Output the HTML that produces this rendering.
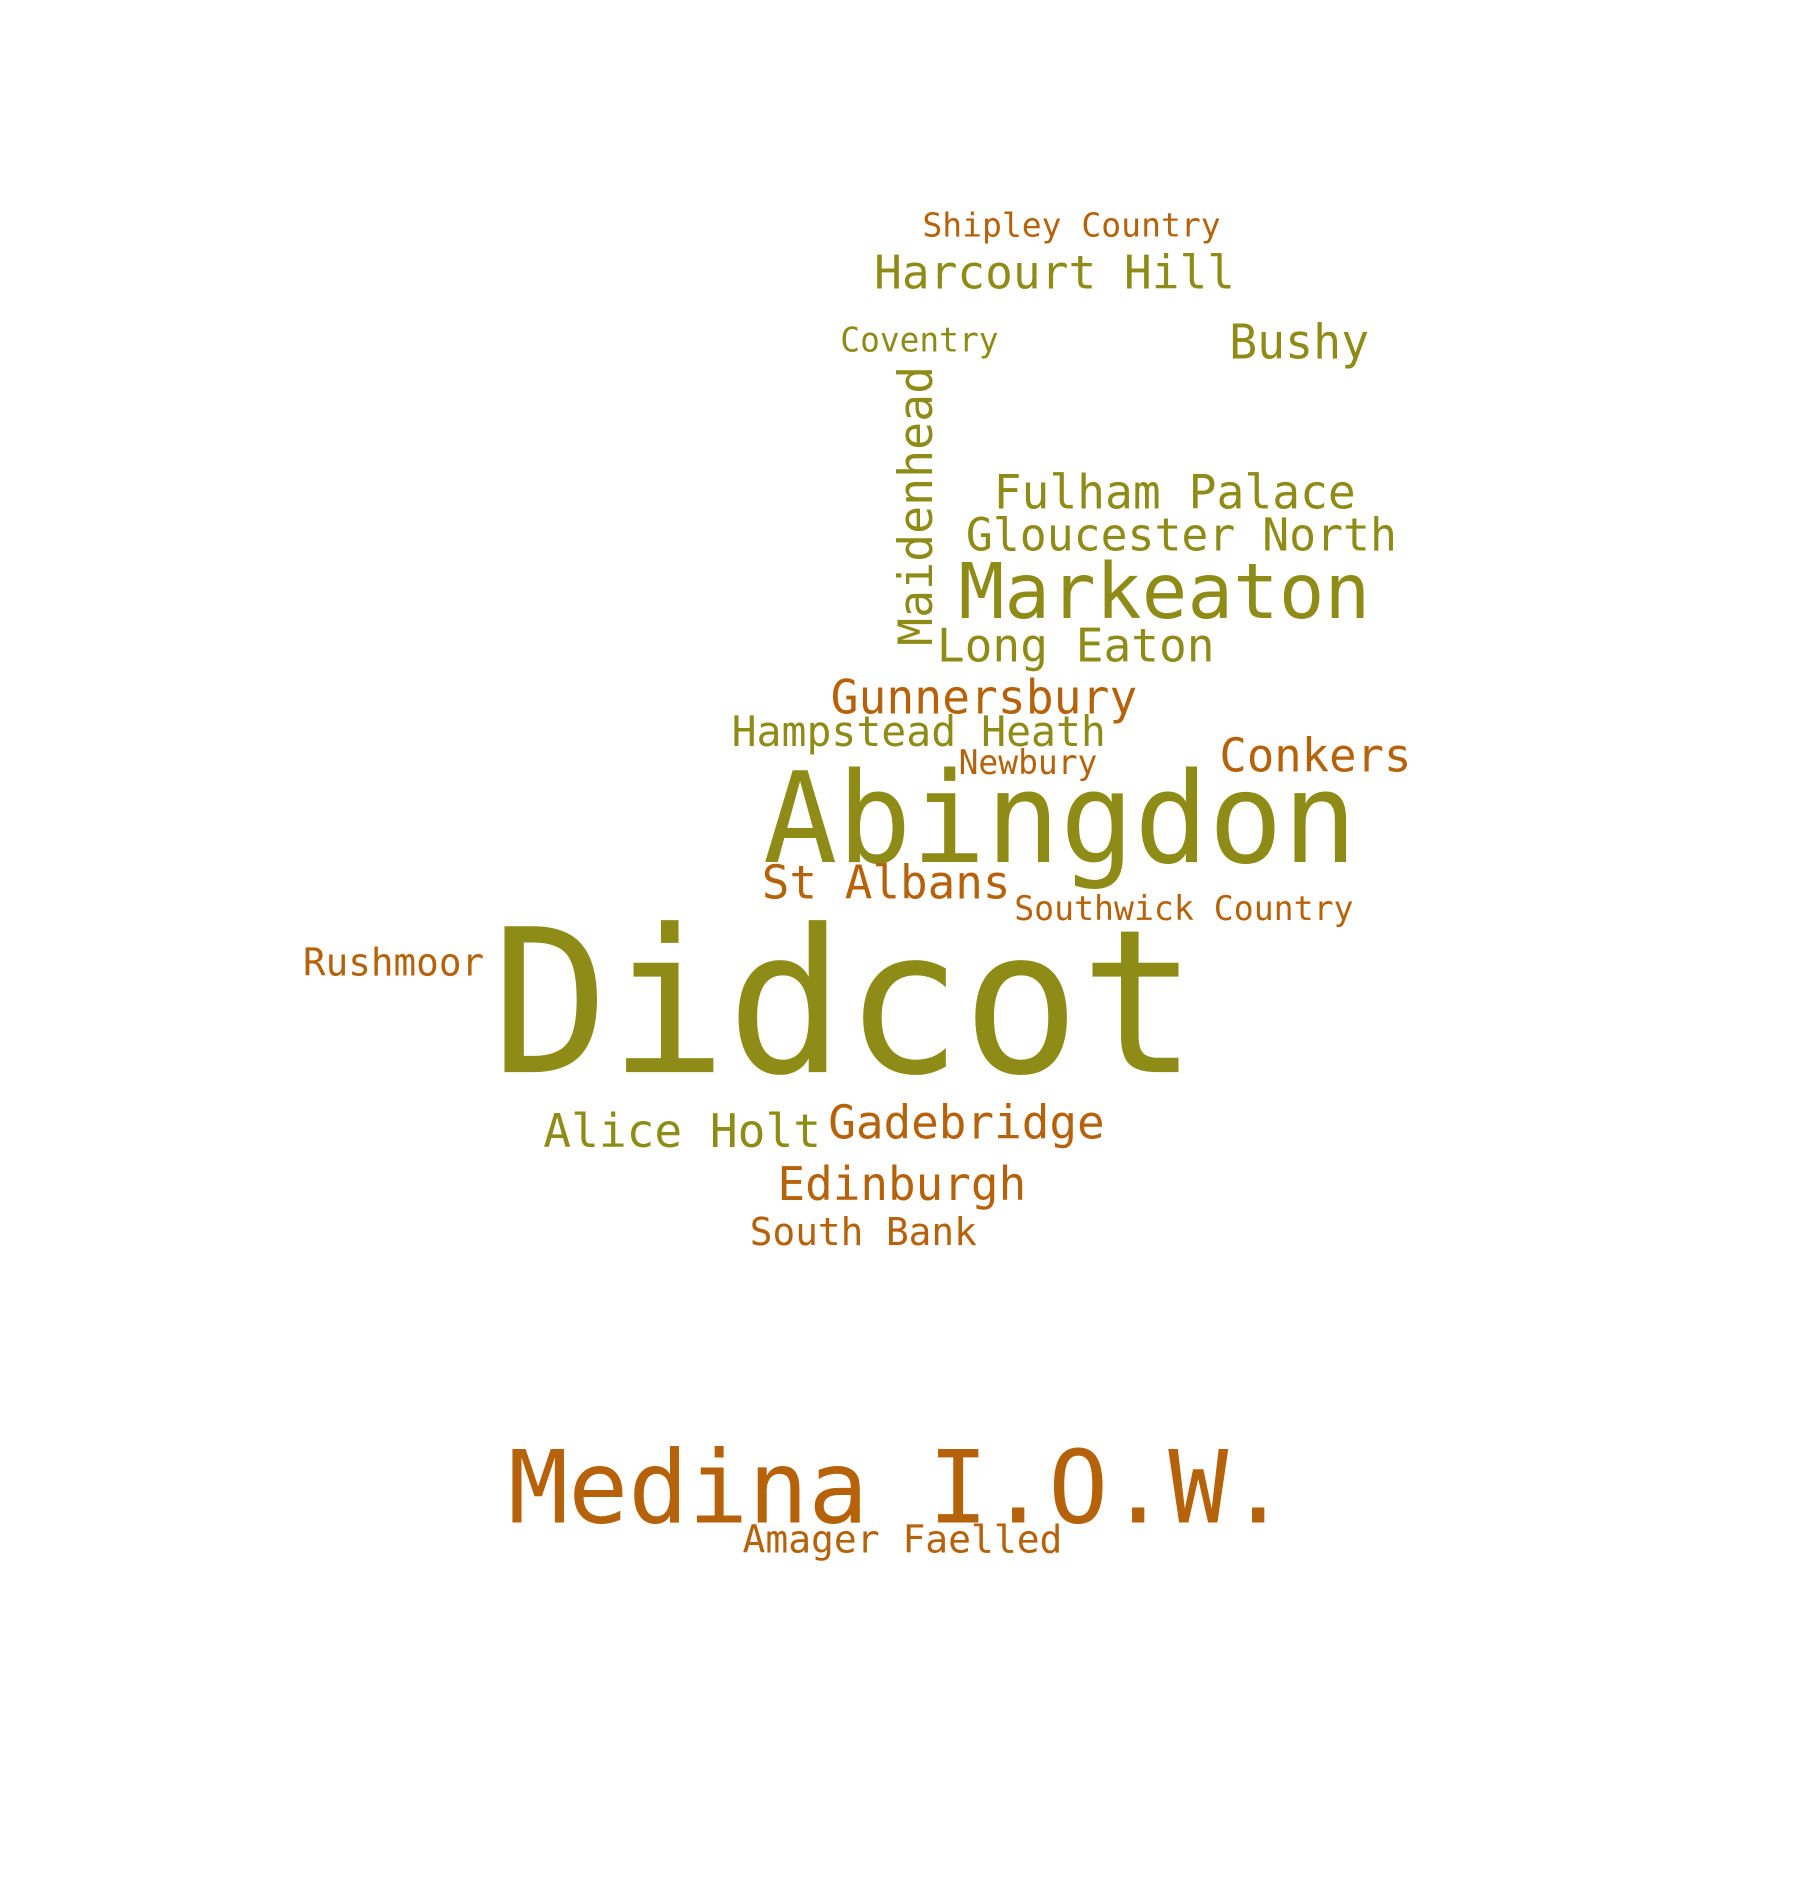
<!DOCTYPE html>
<html><head><meta charset="utf-8">
<style>
html,body{margin:0;padding:0;background:#fff;}
svg{display:block;}
text{font-family:"DejaVu Sans Mono","Liberation Mono",monospace;}
</style></head>
<body>
<svg id="cloud" width="1811" height="1887" viewBox="0 0 1811 1887" xmlns="http://www.w3.org/2000/svg">
<rect width="1811" height="1887" fill="#ffffff"/>
</svg>
<script>
const words = ["Shipley Country","Harcourt Hill","Coventry","Bushy","Maidenhead","Fulham Palace","Gloucester North","Markeaton","Long Eaton","Gunnersbury","Hampstead Heath","Newbury","Conkers","Abingdon","St Albans","Southwick Country","Rushmoor","Didcot","Alice Holt","Gadebridge","Edinburgh","South Bank","Medina I.O.W.","Amager Faelled"];
const colorGroup = [1,0,0,0,0,0,0,0,0,1,0,1,1,0,1,1,1,0,0,1,1,1,1,1];
const leftX = [767,727,699,1021,775,826,803,797,779,691,609,797,1013,635,634,843,254,410,453,689,647,624,424,618];
const rightX = [1014,1026,830,1137,775,1126,1160,1138,1009,945,919,912,1172,1127,840,1124,404,995,683,918,853,812,1070,883];
const baseY = [198,241,293,299,537,423,458,514,550,593,620,643,641,716,746,764,810,890,952,945,996,1033,1263,1288];
const vertLen = [0,0,0,0,232,0,0,0,0,0,0,0,0,0,0,0,0,0,0,0,0,0,0,0];
const colors = ["#8e8c17","#b5620a"];
const S = 1811/1500;
const DX = -3, DY = -2;
const svg = document.getElementById('cloud');
const NS = "http://www.w3.org/2000/svg";
words.forEach((w,i)=>{
  const t = document.createElementNS(NS,'text');
  const vertical = vertLen[i] > 0;
  const len = (vertical ? vertLen[i] : (rightX[i]-leftX[i])) * S;
  const fs = len / (0.602*w.length - 0.08);
  t.setAttribute('font-size', fs.toFixed(1));
  t.setAttribute('fill', colors[colorGroup[i]]);
  t.setAttribute('textLength', len.toFixed(1));
  t.setAttribute('lengthAdjust', 'spacingAndGlyphs');
  if (vertical) {
    const x = (leftX[i]+DX)*S, y = (baseY[i]+DY)*S;
    t.setAttribute('transform', `translate(${x},${y}) rotate(-90)`);
    t.setAttribute('x', 0); t.setAttribute('y', 0);
  } else {
    t.setAttribute('x', ((leftX[i]+DX)*S).toFixed(1));
    t.setAttribute('y', ((baseY[i]+DY)*S).toFixed(1));
  }
  t.textContent = w;
  
  
  svg.appendChild(t);
});
</script>
</body></html>
